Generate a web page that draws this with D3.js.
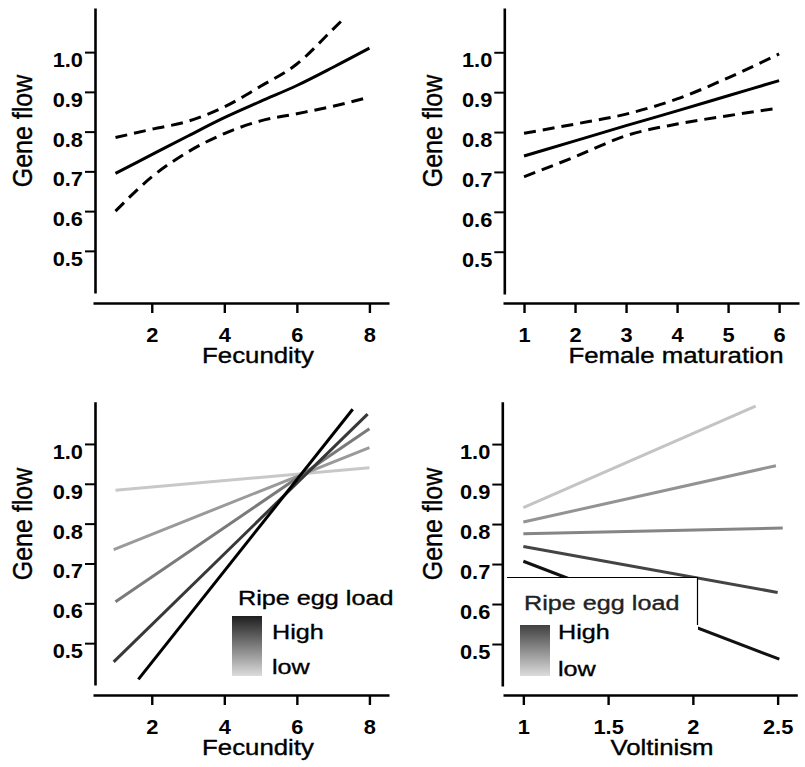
<!DOCTYPE html>
<html>
<head>
<meta charset="utf-8">
<script src="https://cdn.jsdelivr.net/npm/d3@7"></script>
<style>
  html, body { margin: 0; padding: 0; background: #fff; }
  svg { display: block; }
  text { font-family: "Liberation Sans", Arial, Helvetica, sans-serif; }
</style>
</head>
<body>
<script>
// ---------------- DATA ----------------
// Panel A: Fecundity
const fecX = [1, 2, 3, 4, 5, 6, 7, 8];
const fecFit = [0.695, 0.742, 0.789, 0.835, 0.876, 0.916, 0.962, 1.01];
const fecUpperX = [1, 2, 3, 4, 5, 6, 7, 7.3];
const fecUpper = [0.785, 0.806, 0.826, 0.862, 0.914, 0.97, 1.058, 1.085];
const fecLower = [0.6, 0.686, 0.749, 0.795, 0.827, 0.845, 0.864, 0.887];

// Panel B: Female maturation
const matX = [1, 2, 3, 4, 5, 6];
const matFit = [0.74, 0.778, 0.816, 0.853, 0.891, 0.929];
const matUpper = [0.797, 0.82, 0.845, 0.883, 0.936, 0.996];
const matLower = [0.688, 0.738, 0.791, 0.82, 0.841, 0.86];

// Panel C: Fecundity x ripe egg load (high -> low)
const fecEggStartX = [1.63, 0.95, 1.0, 0.95, 1.0];
const fecEggStartY = [0.409, 0.453, 0.604, 0.735, 0.884];
const fecEggEndX = [7.54, 7.95, 8.0, 8.0, 8.0];
const fecEggEndY = [1.087, 1.075, 1.038, 0.991, 0.94];

// Panel D: Voltinism x ripe egg load (high -> low)
const voltStartX = [1.0, 1.0, 1.0, 1.0, 1.0];
const voltStartY = [0.707, 0.744, 0.776, 0.805, 0.841];
const voltEndX = [2.51, 2.5, 2.53, 2.49, 2.37];
const voltEndY = [0.462, 0.629, 0.79, 0.946, 1.095];

// Tick labels
const yTicks = [0.5, 0.6, 0.7, 0.8, 0.9, 1.0];
const fecTicks = [2, 4, 6, 8];
const matTicks = [1, 2, 3, 4, 5, 6];
const voltTicks = [1, 1.5, 2, 2.5];
const yLabel = "Gene flow";
const legendTitle = "Ripe egg load";
const legendHigh = "High";
const legendLow = "low";

// ---------------- STYLE / LAYOUT ----------------
const SX = 1.2;
const TSX = 1.12;
const W = 805, H = 767;
const eggColorsC = ["#000000", "#383838", "#7a7a7a", "#9a9a9a", "#c8c8c8"];
const eggColorsD = ["#111111", "#444444", "#858585", "#939393", "#c4c4c4"];

const svg = d3.select("body").append("svg").attr("width", W).attr("height", H);
svg.append("rect").attr("width", W).attr("height", H).attr("fill", "#fff");

const defs = svg.append("defs");
function grad(id, top, bottom) {
  const g = defs.append("linearGradient").attr("id", id)
    .attr("x1", 0).attr("y1", 0).attr("x2", 0).attr("y2", 1);
  g.append("stop").attr("offset", "0%").attr("stop-color", top);
  g.append("stop").attr("offset", "100%").attr("stop-color", bottom);
}
grad("gC", "#1e1e1e", "#dcdcdc");
grad("gD", "#404040", "#dcdcdc");

function stext(g, x, y, str, size, opts = {}) {
  const fill = opts.fill || "#000";
  return g.append("text")
    .attr("transform", `translate(${x},${y}) scale(${SX},1)`)
    .attr("text-anchor", opts.anchor || "start")
    .attr("font-size", size)
    .attr("font-weight", opts.weight || "normal")
    .attr("fill", fill)
    .attr("stroke", fill).attr("stroke-width", 0.35)
    .text(str);
}

function panel(cfg) {
  const x = d3.scaleLinear().domain(cfg.xDom).range([cfg.xL, cfg.xR]);
  const y = d3.scaleLinear().domain(cfg.yDom).range([cfg.yB, cfg.yT]);
  const g = svg.append("g");

  // y axis
  const ya = g.append("g").attr("transform", `translate(${cfg.yAxisX},0)`)
    .call(d3.axisLeft(y).tickValues(yTicks).tickSize(10).tickSizeOuter(0)
      .tickFormat(d3.format(".1f")));
  ya.select(".domain").attr("stroke", "#000").attr("stroke-width", 2.6);
  ya.selectAll(".tick line").attr("stroke", "#000").attr("stroke-width", 2);
  ya.selectAll(".tick text")
    .attr("x", null).attr("dy", null).attr("y", null)
    .attr("transform", `translate(-12,14.5) scale(${TSX},1)`)
    .attr("text-anchor", "end")
    .attr("font-size", 19.5).attr("font-weight", "bold")
    .attr("font-family", "Liberation Sans, Arial, sans-serif").attr("fill", "#000");

  // x axis
  const xa = g.append("g").attr("transform", `translate(0,${cfg.xAxisY})`)
    .call(d3.axisBottom(x).tickValues(cfg.xTicks).tickSize(10).tickSizeOuter(0)
      .tickFormat(d => String(d)));
  xa.select(".domain").attr("stroke", "#000").attr("stroke-width", 2.6);
  xa.selectAll(".tick line").attr("stroke", "#000").attr("stroke-width", 2.4);
  xa.selectAll(".tick text")
    .attr("x", null).attr("dy", null).attr("y", null)
    .attr("transform", `translate(0,38.5) scale(${TSX},1)`)
    .attr("text-anchor", "middle")
    .attr("font-size", 19.5).attr("font-weight", "bold")
    .attr("font-family", "Liberation Sans, Arial, sans-serif").attr("fill", "#000");

  // axis titles
  g.append("text")
    .attr("transform", `translate(${cfg.ylabX},${cfg.ylabY}) scale(1.1,1) rotate(-90)`)
    .attr("text-anchor", "middle").attr("font-size", 25).attr("fill", "#000")
    .attr("stroke", "#000").attr("stroke-width", 0.35)
    .text(yLabel);
  stext(g, cfg.xlabX, cfg.xlabY, cfg.xLabel, 21.5, { anchor: "middle" });

  return { x, y, g };
}

// ---------------- PANEL A ----------------
{
  const p = panel({ xDom: [0.38, 8.54], xL: 93, xR: 389, yDom: [0.394, 1.111], yB: 293, yT: 8,
    yAxisX: 95, xAxisY: 303, xTicks: fecTicks, xLabel: "Fecundity",
    ylabX: 32, ylabY: 131, xlabX: 258, xlabY: 363 });
  const line = d3.line().x(d => p.x(d[0])).y(d => p.y(d[1])).curve(d3.curveMonotoneX);
  p.g.append("path").attr("d", line(d3.zip(fecX, fecFit)))
    .attr("fill", "none").attr("stroke", "#000").attr("stroke-width", 3);
  p.g.append("path").attr("d", line(d3.zip(fecUpperX, fecUpper)))
    .attr("fill", "none").attr("stroke", "#000").attr("stroke-width", 3).attr("stroke-dasharray", "12,7");
  p.g.append("path").attr("d", line(d3.zip(fecX, fecLower)))
    .attr("fill", "none").attr("stroke", "#000").attr("stroke-width", 3).attr("stroke-dasharray", "12,7");
}

// ---------------- PANEL B ----------------
{
  const p = panel({ xDom: [0.588, 6.39], xL: 503, xR: 799, yDom: [0.394, 1.111], yB: 294, yT: 8,
    yAxisX: 504.3, xAxisY: 303, xTicks: matTicks, xLabel: "Female maturation",
    ylabX: 441.5, ylabY: 131, xlabX: 676, xlabY: 363 });
  const line = d3.line().x(d => p.x(d[0])).y(d => p.y(d[1])).curve(d3.curveMonotoneX);
  p.g.append("path").attr("d", line(d3.zip(matX, matFit)))
    .attr("fill", "none").attr("stroke", "#000").attr("stroke-width", 3);
  p.g.append("path").attr("d", line(d3.zip(matX, matUpper)))
    .attr("fill", "none").attr("stroke", "#000").attr("stroke-width", 3).attr("stroke-dasharray", "12,7");
  p.g.append("path").attr("d", line(d3.zip(matX, matLower)))
    .attr("fill", "none").attr("stroke", "#000").attr("stroke-width", 3).attr("stroke-dasharray", "12,7");
}

// ---------------- PANEL C ----------------
{
  const p = panel({ xDom: [0.38, 8.54], xL: 93, xR: 389, yDom: [0.395, 1.106], yB: 685, yT: 401.7,
    yAxisX: 95, xAxisY: 695, xTicks: fecTicks, xLabel: "Fecundity",
    ylabX: 32, ylabY: 524, xlabX: 258, xlabY: 755 });
  const idx = d3.range(fecEggStartX.length).reverse();
  idx.forEach(i => {
    p.g.append("line")
      .attr("x1", p.x(fecEggStartX[i])).attr("y1", p.y(fecEggStartY[i]))
      .attr("x2", p.x(fecEggEndX[i])).attr("y2", p.y(fecEggEndY[i]))
      .attr("stroke", eggColorsC[i]).attr("stroke-width", 3);
  });
  // legend
  stext(p.g, 238, 605, legendTitle, 21);
  p.g.append("rect").attr("x", 232).attr("y", 616).attr("width", 30).attr("height", 60)
    .attr("fill", "url(#gC)");
  stext(p.g, 272, 639, legendHigh, 21);
  stext(p.g, 272, 674, legendLow, 21);
}

// ---------------- PANEL D ----------------
{
  const p = panel({ xDom: [0.88, 2.616], xL: 503, xR: 797.3, yDom: [0.395, 1.106], yB: 686, yT: 401.7,
    yAxisX: 502.3, xAxisY: 695, xTicks: voltTicks, xLabel: "Voltinism",
    ylabX: 441.5, ylabY: 524, xlabX: 662, xlabY: 755 });
  const idx = d3.range(voltStartX.length).reverse();
  idx.forEach(i => {
    p.g.append("line")
      .attr("x1", p.x(voltStartX[i])).attr("y1", p.y(voltStartY[i]))
      .attr("x2", p.x(voltEndX[i])).attr("y2", p.y(voltEndY[i]))
      .attr("stroke", eggColorsD[i]).attr("stroke-width", 3);
  });
  // legend box (covers part of the lines)
  const lg = p.g.append("g");
  lg.append("rect").attr("x", 507).attr("y", 577.5).attr("width", 191).attr("height", 110).attr("fill", "#fff");
  lg.append("path").attr("d", "M507,577.5H697.5V625").attr("fill", "none").attr("stroke", "#000").attr("stroke-width", 1.2);
  stext(lg, 524, 610, legendTitle, 21, { fill: "#222" });
  lg.append("rect").attr("x", 520).attr("y", 625).attr("width", 30).attr("height", 51)
    .attr("fill", "url(#gD)");
  stext(lg, 558, 639, legendHigh, 21);
  stext(lg, 558, 676, legendLow, 21);
}
</script>
</body>
</html>
